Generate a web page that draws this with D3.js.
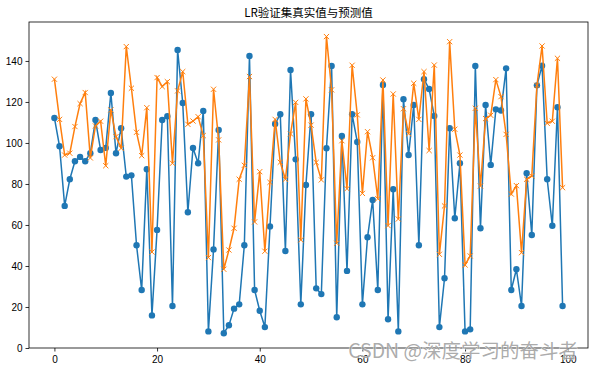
<!DOCTYPE html>
<html lang="zh">
<head>
<meta charset="UTF-8" />
<title>LR验证集真实值与预测值</title>
<script src="https://cdn.jsdelivr.net/npm/d3@7"></script>
<style>
  body { margin: 0; background: #fff; }
  svg { display: block; }
  .axis text { font-family: "Liberation Sans", "DejaVu Sans", sans-serif; font-size: 10px; fill: #000; }
  .axis path, .axis line { stroke: #000; stroke-width: 0.8; }
</style>
</head>
<body>
<script>
// 真实值 (blue) and 预测值 (orange)
var trueVals = [112.2, 98.4, 69.3, 82.3, 91.1, 93.2, 91.1, 95.0, 111.2, 96.6,
  97.6, 124.4, 95.0, 107.2, 83.6, 84.2, 50.1, 28.3, 87.2, 15.9,
  57.6, 111.2, 113.0, 20.5, 145.4, 119.5, 66.2, 97.6, 90.1, 115.6,
  8.1, 48.1, 106.3, 7.2, 11.1, 19.2, 21.3, 50.1, 142.4, 28.3,
  18.2, 10.2, 59.3, 109.3, 114.0, 47.3, 135.6, 92.0, 21.3, 79.5,
  114.0, 29.1, 26.3, 97.4, 137.6, 15.0, 103.4, 37.6, 114.0, 100.5,
  21.3, 54.0, 72.2, 28.3, 128.3, 14.0, 77.4, 8.1, 121.3, 94.1,
  118.5, 50.1, 131.1, 126.3, 113.2, 10.2, 34.0, 107.2, 63.3, 90.1,
  8.1, 9.1, 137.6, 58.4, 118.5, 89.3, 116.4, 115.8, 136.4, 28.3,
  38.4, 20.5, 85.2, 55.1, 128.1, 137.7, 82.3, 59.6, 117.4, 20.5];

var predVals = [131.1, 111.5, 94.1, 95.0, 108.0, 119.2, 124.6, 92.7, 108.3, 110.6,
  88.9, 116.1, 103.1, 97.4, 147.0, 126.7, 105.2, 93.8, 117.2, 46.8,
  131.9, 127.5, 129.9, 90.1, 125.4, 134.8, 109.1, 110.7, 112.8, 103.6,
  44.1, 126.2, 101.5, 38.4, 47.8, 58.4, 82.3, 89.1, 132.4, 61.5,
  86.0, 47.2, 80.8, 111.5, 90.6, 82.3, 104.4, 119.8, 52.7, 121.5,
  108.7, 90.5, 82.0, 151.9, 125.9, 51.1, 101.1, 77.7, 137.9, 113.7,
  75.4, 105.5, 92.8, 72.8, 130.7, 59.7, 123.9, 62.9, 116.7, 104.5,
  129.1, 111.5, 134.8, 96.3, 138.0, 45.7, 69.3, 149.4, 106.7, 94.1,
  40.5, 44.9, 116.9, 79.0, 111.9, 113.5, 130.9, 122.6, 104.2, 75.1,
  79.2, 46.5, 82.3, 83.9, 128.1, 147.3, 109.6, 110.6, 141.3, 78.2];

var xTicks = [0, 20, 40, 60, 80, 100];
var yTicks = [0, 20, 40, 60, 80, 100, 120, 140];

var w = 594, h = 370,
  padL = 29, padR = 588, padT = 22, padB = 348;

var svg = d3.select("body").append("svg")
  .attr("width", w)
  .attr("height", h);

var xScale = d3.scaleLinear()
  .domain([-4.95, 103.95])
  .range([padL, padR]);

var yScale = d3.scaleLinear()
  .domain([0, 159])
  .range([padB, padT]);

var xAxis = d3.axisBottom(xScale).tickValues(xTicks).tickSize(3.5).tickPadding(4);
var yAxis = d3.axisLeft(yScale).tickValues(yTicks).tickSize(3.5).tickPadding(3);

svg.append("g")
  .attr("class", "axis")
  .attr("transform", "translate(0," + padB + ")")
  .call(xAxis)
  .select(".domain").remove();

svg.append("g")
  .attr("class", "axis")
  .attr("transform", "translate(" + padL + ",0)")
  .call(yAxis)
  .select(".domain").remove();

var line = d3.line()
  .x(function(d, i) { return xScale(i) })
  .y(function(d) { return yScale(d) });

// blue: true values with circles
svg.append("path")
  .datum(trueVals)
  .attr("fill", "none")
  .attr("stroke", "#1f77b4")
  .attr("stroke-width", 1.5)
  .attr("d", line);

svg.selectAll("circle.t")
  .data(trueVals)
  .enter()
  .append("circle")
  .attr("class", "t")
  .attr("cx", function(d, i) { return xScale(i) })
  .attr("cy", function(d) { return yScale(d) })
  .attr("r", 3.2)
  .attr("fill", "#1f77b4");

// orange: predicted values with x markers
svg.append("path")
  .datum(predVals)
  .attr("fill", "none")
  .attr("stroke", "#ff7f0e")
  .attr("stroke-width", 1.5)
  .attr("d", line);

var s = 2.6;
svg.selectAll("path.p")
  .data(predVals)
  .enter()
  .append("path")
  .attr("class", "p")
  .attr("d", function(d, i) {
    var cx = xScale(i), cy = yScale(d);
    return "M" + (cx - s) + "," + (cy - s) + "L" + (cx + s) + "," + (cy + s) +
      "M" + (cx - s) + "," + (cy + s) + "L" + (cx + s) + "," + (cy - s);
  })
  .attr("stroke", "#ff7f0e")
  .attr("stroke-width", 1);

// frame
svg.append("rect")
  .attr("x", padL)
  .attr("y", padT)
  .attr("width", padR - padL)
  .attr("height", padB - padT)
  .attr("fill", "none")
  .attr("stroke", "#000")
  .attr("stroke-width", 0.8);

svg.append("text")
  .attr("x", (padL + padR) / 2)
  .attr("y", 17)
  .attr("text-anchor", "middle")
  .style("font-family", "'Noto Sans CJK SC', sans-serif")
  .style("font-size", "11.5px")
  .text("LR验证集真实值与预测值");

// watermark
svg.append("text")
  .attr("x", 578)
  .attr("y", 358)
  .attr("text-anchor", "end")
  .style("font-family", "'Noto Sans CJK SC', sans-serif")
  .style("font-size", "19.5px")
  .attr("fill", "rgba(150,150,150,0.8)")
  .attr("stroke", "#fff")
  .attr("stroke-width", 0.6)
  .attr("paint-order", "stroke")
  .text("CSDN @深度学习的奋斗者");
</script>
</body>
</html>
